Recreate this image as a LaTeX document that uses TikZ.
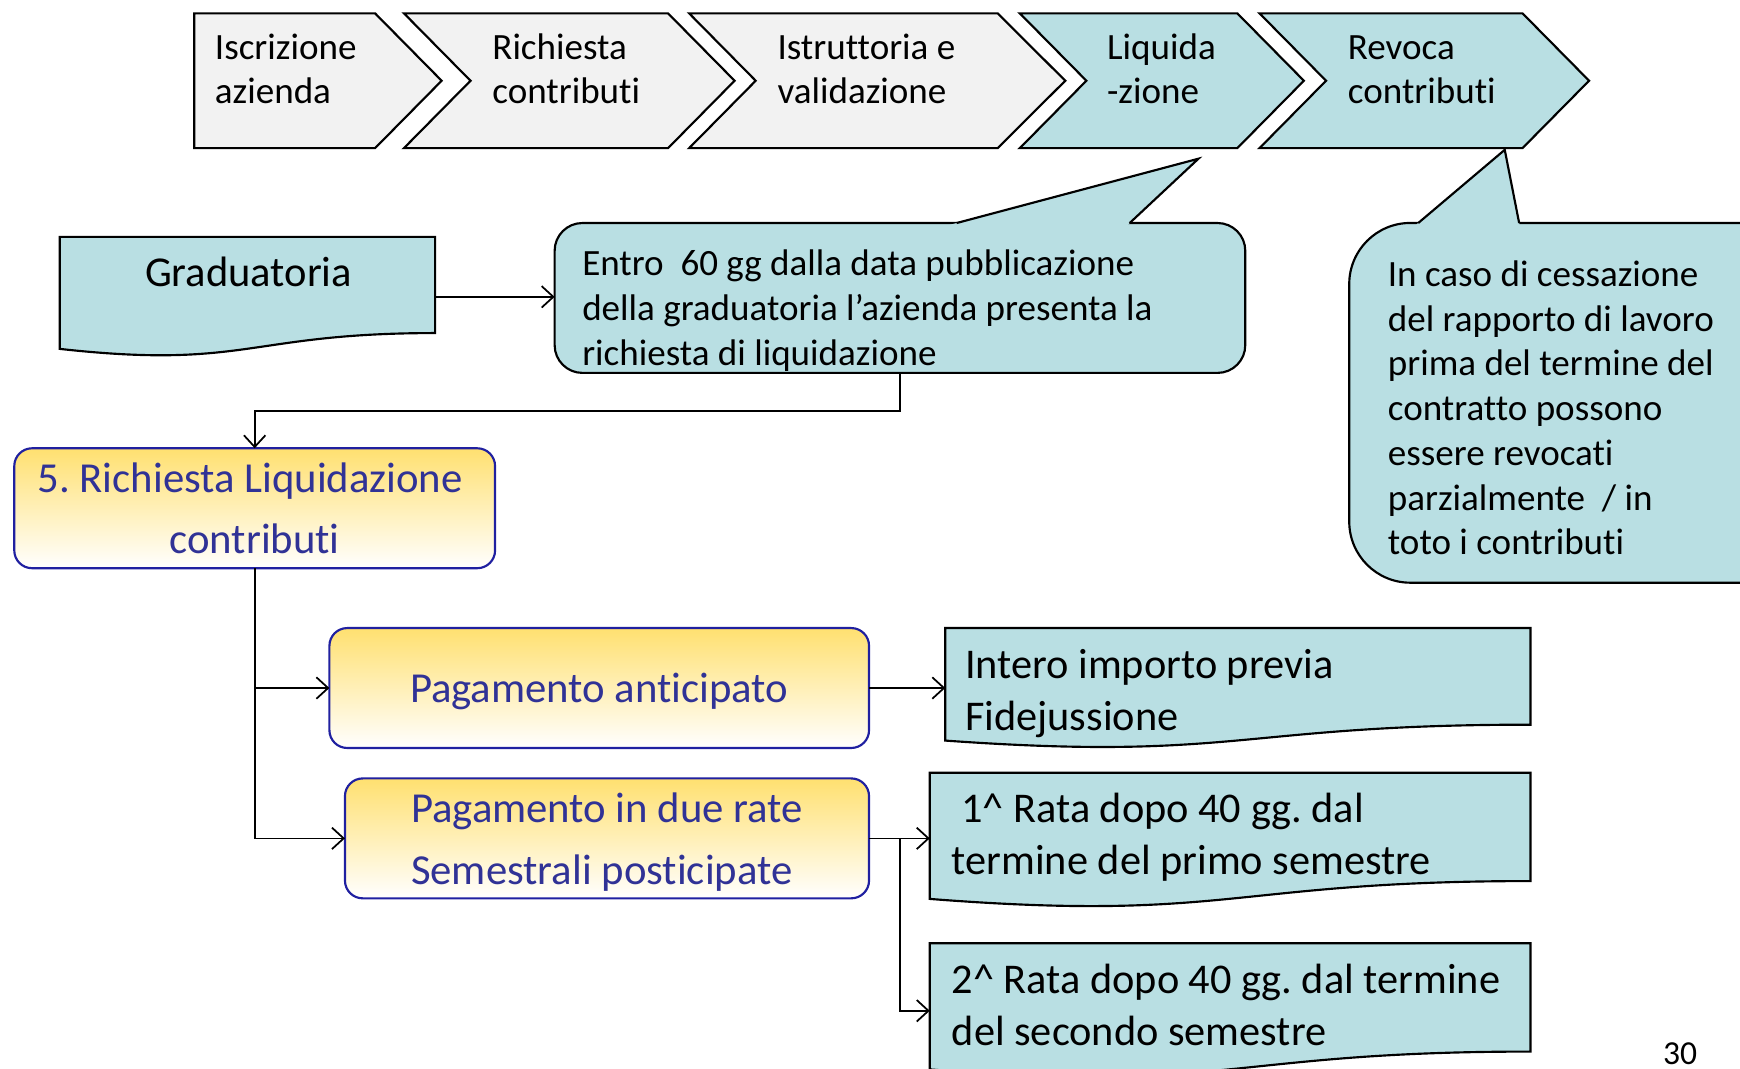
\documentclass[tikz,border=0pt]{standalone}
\usepackage{fontspec}
\setmainfont{Carlito}[Ligatures=NoCommon]
\usetikzlibrary{calc,arrows.meta}
\frenchspacing

\definecolor{tealFill}{RGB}{185,223,227}
\definecolor{grayFill}{RGB}{242,242,242}
\definecolor{goldTop}{RGB}{255,224,112}
\definecolor{payBlue}{RGB}{32,32,160}
\definecolor{payText}{RGB}{48,50,150}

% wavy document box drawn round a node
\newcommand{\docShape}[1]{%
  \filldraw[outline, fill=tealFill] (#1.north west) -- (#1.north east)
    -- ($(#1.north east)!0.802!(#1.south east)$)
    .. controls ($(#1.north)!0.802!(#1.south)$) and ($(#1.north)!1.107!(#1.south)$)
    .. ($(#1.north west)!0.934!(#1.south west)$) -- cycle;}

\begin{document}
\begin{tikzpicture}[
    x=0.01cm, y=-0.01cm,
    >={Straight Barb[length=3pt,width=5.5pt]},
    outline/.style={draw=black, line width=0.55pt},
    chevGray/.style={outline, fill=grayFill},
    chevTeal/.style={outline, fill=tealFill},
    holder/.style={rectangle, inner sep=0pt, outer sep=0pt},
    callBox/.style={holder, outline, fill=tealFill},
    payBox/.style={holder, draw=payBlue, line width=0.55pt, rounded corners=0.16cm,
        top color=goldTop, bottom color=white, text=payText, align=center,
        font=\fontsize{10.95}{15.8}\selectfont},
    smallTxt/.style={anchor=base west, align=left, inner sep=0pt,
        font=\fontsize{9.5}{11.5}\selectfont},
    chevTxt/.style={smallTxt, font=\fontsize{9.5}{11.4}\selectfont},
    docTxt/.style={smallTxt, font=\fontsize{10.85}{13.2}\selectfont},
    link/.style={->, line width=0.45pt}
]
\path[use as bounding box, fill=white] (0,0) rectangle (1568,963);
\clip (0,0) rectangle (1568,963);

% Process bar (text nodes sit on their last baseline)
\draw[chevGray] (175,12) -- (338,12) -- (398,72.75) -- (338,133.5) -- (175,133.5) -- cycle;
\draw[chevGray] (364,12) -- (602,12) -- (662,72.75) -- (602,133.5) -- (364,133.5) -- (424,72.75) -- cycle;
\draw[chevGray] (621,12) -- (899,12) -- (960,72.75) -- (899,133.5) -- (621,133.5) -- (681,72.75) -- cycle;
\draw[chevTeal] (919,12) -- (1115,12) -- (1175,72.75) -- (1115,133.5) -- (919,133.5) -- (979,72.75) -- cycle;
\draw[chevTeal] (1135,12) -- (1372,12) -- (1432,72.75) -- (1372,133.5) -- (1135,133.5) -- (1195,72.75) -- cycle;

\node[chevTxt] (iscr) at (193,93.5) {Iscrizione\\azienda};
\node[chevTxt] (rich) at (443,93.5) {Richiesta\\contributi};
\node[chevTxt] (istr) at (700,93.5) {Istruttoria e\\validazione};
\node[chevTxt] (liqd) at (997,93.5) {Liquida\\-zione};
\node[chevTxt] (revo) at (1214,93.5) {Revoca\\contributi};

% Callouts
\node[callBox, rounded corners=0.25cm, minimum width=6.22cm, minimum height=1.35cm] (entro) at (811,268.5) {};
\fill[tealFill] (1080,143) -- (828.2,210) -- (1008.4,210) -- cycle;
\draw[outline] (862,201) -- (1080,143) -- (1018,201);
\node[smallTxt] (entroTxt) at (524,329) {Entro\ \ 60 gg dalla data pubblicazione\\della graduatoria l’azienda presenta la\\richiesta di liquidazione};

\node[callBox, rounded corners=0.55cm, minimum width=4.24cm, minimum height=3.24cm] (revNote) at (1428,363) {};
\fill[tealFill] (1356,135) -- (1267.4,210) -- (1370.8,210) -- cycle;
\draw[outline] (1278,201) -- (1356,135) -- (1369,201);
\node[smallTxt, font=\fontsize{9.5}{11.47}\selectfont] (revNoteTxt) at (1250,500) {In caso di cessazione\\del rapporto di lavoro\\prima del termine del\\contratto possono\\essere revocati\\parzialmente\ \ / in\\toto i contributi};

% Documents
\node[holder, minimum width=3.38cm, minimum height=1.08cm] (grad) at (223,267.5) {};
\docShape{grad}
\node[anchor=base, inner sep=0pt, font=\fontsize{10.9}{12}\selectfont] (gradTxt) at (224,258) {Graduatoria};

\node[holder, minimum width=5.27cm, minimum height=1.085cm] (intero) at (1115.5,620.25) {};
\docShape{intero}
\node[docTxt, font=\fontsize{10.85}{13.37}\selectfont] (interoTxt) at (869,658) {Intero importo previa\\Fidejussione};

\node[holder, minimum width=5.41cm, minimum height=1.217cm] (rata1) at (1108.5,757.2) {};
\docShape{rata1}
\node[docTxt] (rata1Txt) at (857,788) {\ 1\textasciicircum{} Rata dopo 40 gg. dal\\termine del primo semestre};

\node[holder, minimum width=5.41cm, minimum height=1.217cm] (rata2) at (1108.5,910.85) {};
\docShape{rata2}
\node[docTxt] (rata2Txt) at (857,942) {2\textasciicircum{} Rata dopo 40 gg. dal termine\\del secondo semestre};

% Payment boxes
\node[payBox, minimum width=4.33cm, minimum height=1.08cm] (liq) at (229.5,458) {5. Richiesta Liquidazione\hspace*{0.08cm}\\contributi};
\node[payBox, text depth=0pt, minimum width=4.86cm, minimum height=1.08cm] (antic) at (540,620) {Pagamento anticipato};
\node[payBox, align=left, text depth=0pt, minimum width=4.72cm, minimum height=1.08cm] (rate) at (547,755.5) {Pagamento in due rate\\Semestrali posticipate};

\node[anchor=base, inner sep=0pt, font=\fontsize{8.6}{10}\selectfont] (pageNum) at (1514,959) {30};

% Arrows
\draw[link] (grad.east) -- (grad.east -| entro.west);
\draw[link] (entro.south) -- ++(0,34) -| (liq.north);
\draw[link] (liq.south) |- (antic.west);
\draw[link] (liq.south) |- (rate.west);
\draw[link] (antic.east) -- (antic.east -| intero.west);
\draw[link] (rate.east) -- (rate.east -| rata1.west);
\draw[link] (rate.east) -- ++(28,0) |- (rata2.west);

\end{tikzpicture}
\end{document}
